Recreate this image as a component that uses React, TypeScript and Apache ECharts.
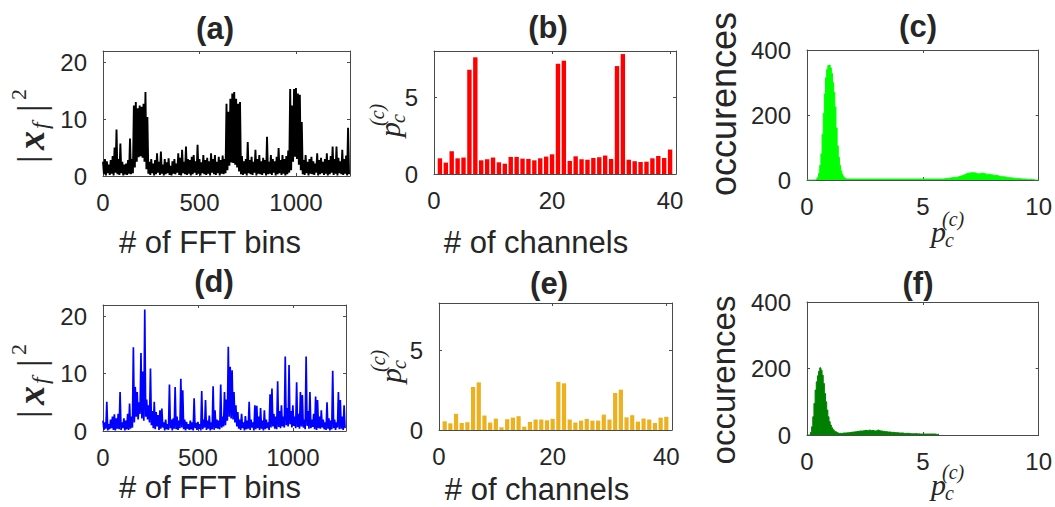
import React, { useEffect, useRef } from "react";
import * as echarts from "echarts";

// ---------- DATA ----------
// (a) |x_f|^2 upper envelope every 10 FFT bins, and lower values in between (bin 10i+5)
const peakA = [
  2.5, 3.0, 2.6, 2.0, 2.8, 3.5, 5.0, 8.2, 3.0, 5.7,
  2.5, 2.0, 2.2, 2.8, 6.6, 3.0, 12.4, 13.0, 11.9, 12.4,
  12.2, 12.7, 14.8, 10.4, 2.5, 3.0, 2.2, 2.8, 4.0, 2.5,
  4.3, 2.0, 3.0, 2.4, 3.1, 1.8, 2.6, 3.0, 2.2, 4.0,
  3.2, 4.6, 2.5, 5.2, 3.0, 2.8, 3.4, 3.7, 2.6, 5.5,
  3.0, 2.4, 3.7, 2.8, 3.2, 2.6, 4.0, 3.0, 3.7, 2.5,
  3.4, 2.8, 3.6, 3.0, 12.7, 11.3, 13.6, 14.5, 14.8, 13.6,
  12.7, 13.0, 3.5, 2.6, 3.0, 6.0, 2.8, 3.4, 2.5, 4.6,
  3.0, 3.7, 2.6, 3.2, 2.8, 6.9, 2.5, 3.7, 3.0, 2.6,
  3.4, 4.9, 2.8, 3.7, 3.0, 3.5, 4.5, 15.3, 12.4, 15.3,
  15.5, 14.5, 14.3, 9.5, 2.8, 3.7, 2.5, 3.0, 3.4, 2.6,
  2.2, 4.0, 2.8, 3.2, 2.5, 3.0, 4.0, 2.8, 3.5, 5.2,
  3.0, 5.2, 3.2, 2.6, 4.6, 3.0, 3.6, 8.5,
];
const floorA = [
  0.3, 0.1, 0.5, 0.2, 0.4, 0.1, 0.6, 0.3, 0.2, 0.5, 0.1, 0.3, 0.2, 0.4, 0.3,
  0.5, 1.5, 2.5, 3.3, 3.5, 3.2, 2.5, 1.2, 0.4,
  0.2, 0.5, 0.1, 0.3, 0.6, 0.2, 0.4, 0.1, 0.3, 0.5, 0.2, 0.1, 0.4, 0.3, 0.6, 0.2,
  0.1, 0.5, 0.3, 0.2, 0.4, 0.1, 0.3, 0.6, 0.2, 0.4, 0.1, 0.5, 0.3, 0.2, 0.4, 0.1,
  0.6, 0.3, 0.2, 0.5, 0.1, 0.4, 0.3, 0.5,
  1.0, 1.8, 2.4, 2.3, 2.0, 1.5, 0.8, 0.3,
  0.2, 0.4, 0.1, 0.5, 0.3, 0.2, 0.6, 0.1, 0.4, 0.3, 0.2, 0.5, 0.1, 0.3, 0.4, 0.2,
  0.6, 0.1, 0.3, 0.5, 0.2, 0.4, 0.1, 0.3, 0.6,
  1.0, 2.5, 3.4, 3.0, 2.0, 1.0, 0.3,
  0.2, 0.5, 0.1, 0.4, 0.3, 0.2, 0.6, 0.1, 0.3, 0.5, 0.2, 0.4, 0.1, 0.3, 0.6, 0.2,
  0.4, 0.1, 0.5, 0.3, 0.2, 0.4, 0.1, 0.3,
];
// (d)
const peakD = [
  1.8, 1.5, 5.1, 1.2, 2.0, 2.5, 2.9, 2.2, 3.0, 6.8,
  1.5, 2.2, 1.8, 3.0, 4.8, 2.5, 14.6, 7.7, 6.8, 5.0,
  13.6, 10.4, 21.2, 5.5, 4.5, 10.9, 3.5, 5.1, 3.3, 2.8,
  3.6, 3.9, 1.5, 2.0, 1.2, 8.1, 2.0, 2.2, 7.7, 2.5,
  1.8, 9.1, 7.1, 2.0, 1.6, 1.2, 1.8, 1.5, 5.7, 1.4,
  1.6, 1.2, 7.0, 2.0, 5.4, 1.8, 2.7, 1.5, 7.8, 3.6,
  2.0, 1.8, 8.1, 2.5, 6.8, 5.5, 14.7, 11.2, 10.6, 6.8,
  4.5, 3.3, 2.0, 3.0, 1.5, 2.6, 1.8, 5.1, 2.0, 1.5,
  4.5, 4.4, 2.5, 4.0, 1.8, 3.6, 2.0, 1.5, 6.4, 7.4,
  3.0, 2.5, 8.7, 3.5, 4.5, 2.5, 13.0, 4.0, 11.5, 3.5,
  4.5, 2.5, 8.5, 3.0, 6.8, 6.3, 2.0, 13.0, 3.5, 6.8,
  2.0, 3.0, 6.0, 5.4, 2.5, 3.6, 2.0, 1.5, 5.0, 2.2,
  1.8, 10.5, 2.0, 1.5, 6.8, 5.4, 2.5, 4.5,
];
const floorD = [
  0.2, 0.4, 0.1, 0.3, 0.5, 0.2, 0.1, 0.4, 0.3, 0.2, 0.5, 0.1, 0.3, 0.2, 0.4, 0.6,
  1.5, 2.5, 2.0, 3.0, 2.2, 1.8, 2.5, 2.0, 1.5, 1.0,
  0.5, 0.3, 0.8, 0.2, 0.4, 0.6, 0.1, 0.3, 0.2, 0.5, 0.1, 0.4, 0.3, 0.2, 0.5, 0.6,
  0.3, 0.1, 0.4, 0.2, 0.3, 0.1, 0.5, 0.2, 0.4, 0.1, 0.3, 0.6, 0.2, 0.4, 0.1, 0.3,
  0.2, 0.5, 0.4, 0.3, 0.6, 0.8,
  1.0, 1.8, 2.5, 2.2, 2.0, 1.5, 0.8, 0.4,
  0.2, 0.5, 0.1, 0.3, 0.4, 0.2, 0.6, 0.1, 0.3, 0.5, 0.2, 0.4, 0.1, 0.3, 0.5, 0.2,
  0.6, 0.8, 0.4, 0.3, 0.7, 0.5, 0.8, 0.6, 1.0, 0.8, 1.2, 0.6, 0.9, 0.5, 0.7, 0.4,
  0.8, 0.6, 0.3, 0.9, 0.4, 0.5, 0.7, 0.3, 0.2, 0.5, 0.4, 0.6, 0.3, 0.2, 0.4, 0.1,
  0.3, 0.5, 0.2, 0.6, 0.3, 0.4, 0.2, 0.5,
];
// (b) & (e) per-channel values, channels 1..40
const barsB = [
  1.02, 0.74, 1.48, 1.02, 1.07, 6.78, 7.59, 0.89, 0.96, 1.07,
  0.76, 0.67, 1.11, 1.11, 1.0, 0.98, 0.89, 1.02, 1.13, 1.28,
  7.17, 7.37, 0.85, 1.15, 0.96, 0.93, 1.04, 1.09, 1.2, 0.98,
  7.02, 7.8, 0.93, 0.83, 0.78, 0.8, 1.02, 1.17, 1.04, 1.59,
];
const barsE = [
  0.55, 0.42, 1.02, 0.44, 0.49, 2.71, 3.0, 0.91, 0.47, 0.72,
  0.17, 0.68, 0.78, 0.87, 0.21, 0.51, 0.66, 0.66, 0.61, 0.7,
  3.03, 2.94, 0.66, 0.47, 0.59, 0.7, 0.59, 0.59, 0.97, 0.66,
  2.33, 2.54, 0.8, 0.93, 0.53, 0.72, 0.66, 0.44, 0.78, 0.83,
];
// (c) & (f) histogram counts, bins of width 0.05 starting at 0
const histBinWidth = 0.05;
const histC = [
  0, 0, 0, 0, 0, 0, 0, 0, 3, 8,
  20, 45, 80, 140, 205, 265, 315, 340, 352, 354,
  345, 328, 300, 270, 225, 160, 105, 70, 45, 28,
  18, 10, 6, 4, 3, 3, 3, 3, 3, 3,
  3, 3, 3, 3, 3, 3, 3, 3, 3, 3,
  3, 3, 3, 3, 3, 3, 3, 3, 3, 3,
  3, 3, 3, 3, 3, 3, 3, 3, 3, 3,
  3, 3, 3, 3, 3, 3, 3, 3, 3, 3,
  3, 3, 3, 3, 3, 3, 3, 3, 3, 3,
  3, 3, 3, 3, 3, 3, 3, 3, 3, 3,
  3, 3, 3, 3, 3, 3, 3, 3, 3, 3,
  3, 3, 3, 3, 3, 3, 3, 3, 4, 4,
  5, 5, 6, 6, 7, 7, 8, 8, 8, 9,
  10, 11, 12, 13, 15, 16, 18, 19, 20, 21,
  22, 22, 23, 22, 22, 21, 20, 19, 19, 20,
  21, 21, 20, 19, 18, 18, 17, 17, 16, 16,
  15, 15, 14, 14, 13, 12, 11, 11, 10, 10,
  9, 9, 8, 8, 7, 7, 6, 6, 6, 5,
  5, 5, 4, 4, 4, 3, 3, 3, 3, 2,
  2, 2, 2, 2, 1, 1, 0, 0, 0, 0,
];
const histF = [
  0, 0, 0, 8, 25, 55, 95, 135, 160, 178,
  192, 202, 195, 180, 155, 125, 100, 75, 55, 40,
  30, 22, 17, 13, 10, 8, 6, 5, 5, 5,
  5, 6, 6, 6, 7, 7, 7, 8, 8, 9,
  9, 10, 10, 11, 11, 12, 12, 12, 13, 13,
  14, 14, 13, 15, 14, 13, 14, 13, 12, 13,
  14, 15, 13, 12, 12, 11, 11, 10, 10, 9,
  9, 9, 8, 8, 8, 7, 7, 7, 7, 6,
  6, 6, 6, 5, 5, 5, 5, 5, 4, 4,
  4, 4, 4, 4, 4, 3, 4, 3, 3, 3,
  3, 3, 3, 3, 3, 3, 3, 3, 3, 3,
  3, 2, 2, 2,
];

const titles = ["(a)", "(b)", "(c)", "(d)", "(e)", "(f)"];
const xLabelFFT = "# of FFT bins";
const xLabelCh = "# of channels";
const yLabelOcc = "occurences";

// ---------- helpers ----------
const SANS = '"Liberation Sans", Arial, Helvetica, sans-serif';
const SERIF = '"Liberation Serif", "DejaVu Serif", serif';
const TXT = "#262626";
const BOX = "#4a4a4a";

function spectrum(peaks: number[], floors: number[]) {
  const out: number[][] = [];
  for (let i = 0; i < peaks.length; i++) {
    out.push([i * 10, peaks[i]]);
    out.push([i * 10 + 5, floors[i] ?? 0.2]);
  }
  return out;
}
function hist(counts: number[], w: number) {
  const out: number[][] = counts.map((c, i) => [+(i * w).toFixed(4), c]);
  out.push([+(counts.length * w).toFixed(4), 0]);
  return out;
}
function bars(vals: number[]) {
  return vals.map((v, i) => [i + 1, v]);
}

function mkAxis(grid: number, min: number, max: number, interval: number, pos: string, labels: boolean, margin: number) {
  return {
    type: "value",
    gridIndex: grid,
    min,
    max,
    interval,
    position: pos,
    axisLine: { show: true, onZero: false, lineStyle: { color: BOX, width: 1 } },
    axisTick: { show: true, inside: true, length: 3, lineStyle: { color: BOX, width: 1 } },
    axisLabel: labels
      ? {
          show: true,
          fontSize: 24,
          color: TXT,
          fontFamily: SANS,
          margin,
          formatter: (v: number) => (Math.abs(v % interval) < 1e-9 ? String(v) : ""),
        }
      : { show: false },
    splitLine: { show: false },
  };
}

const grids = [
  { left: 103, top: 51, width: 247, height: 125 },
  { left: 434, top: 51, width: 242, height: 123 },
  { left: 807, top: 50, width: 235, height: 130 },
  { left: 103, top: 305, width: 243, height: 126 },
  { left: 439, top: 303, width: 233, height: 127 },
  { left: 807, top: 302, width: 235, height: 133 },
];
const xr = [
  [0, 1280, 500],
  [0, 41, 20],
  [0, 10, 5],
  [0, 1280, 500],
  [0, 41, 20],
  [0, 10, 5],
];
const yr = [
  [0, 22, 10],
  [0, 8, 5],
  [0, 400, 200],
  [0, 22, 10],
  [0, 8, 5],
  [0, 400, 200],
];

function txt(x: number, y: number, text: string, size: number, opts: any = {}) {
  return {
    type: "text",
    x,
    y,
    rotation: opts.rotation || 0,
    style: {
      text,
      fontSize: size,
      fontFamily: opts.family || SANS,
      fontWeight: opts.weight || "normal",
      fontStyle: opts.style || "normal",
      fill: TXT,
      align: opts.align || "center",
      verticalAlign: "middle",
    },
  };
}

// p_c^{(c)} label, centred on (cx, cy)
function pLabel(cx: number, cy: number, rotated: boolean) {
  return {
    type: "group",
    x: cx,
    y: cy,
    rotation: rotated ? Math.PI / 2 : 0,
    children: [
      txt(-15, 0, "p", 30, { family: SERIF, style: "italic", align: "left" }),
      txt(-1, 9, "c", 20, { family: SERIF, style: "italic", align: "left" }),
      txt(-4, -12, "(c)", 20, { family: SERIF, style: "italic", align: "left" }),
    ],
  };
}
// |x_f|^2 label
function xfLabel(cx: number, cy: number) {
  return {
    type: "group",
    x: cx,
    y: cy,
    rotation: Math.PI / 2,
    children: [
      txt(-40, 0, "|", 38, { family: SERIF, align: "left" }),
      txt(-27, 0, "x", 38, { family: SERIF, style: "italic", weight: "bold", align: "left" }),
      txt(-6, 9, "f", 24, { family: SERIF, style: "italic", align: "left" }),
      txt(11, 0, "|", 38, { family: SERIF, align: "left" }),
      txt(23, -13, "2", 22, { family: SERIF, align: "left" }),
    ],
  };
}

export default function App() {
  const ref = useRef<HTMLDivElement>(null);
  useEffect(() => {
    if (!ref.current) return;
    const chart = echarts.init(ref.current, undefined, { renderer: "svg" });
    const xAxis: any[] = [];
    const yAxis: any[] = [];
    for (let g = 0; g < 6; g++) {
      xAxis.push(mkAxis(g, xr[g][0], xr[g][1], xr[g][2], "bottom", true, 14));
      xAxis.push(mkAxis(g, xr[g][0], xr[g][1], xr[g][2], "top", false, 0));
      yAxis.push(mkAxis(g, yr[g][0], yr[g][1], yr[g][2], "left", true, 16));
      yAxis.push(mkAxis(g, yr[g][0], yr[g][1], yr[g][2], "right", false, 0));
    }
    const series: any[] = [
      {
        type: "line", xAxisIndex: 0, yAxisIndex: 0, data: spectrum(peakA, floorA),
        symbol: "none", clip: false, lineStyle: { color: "#000000", width: 1.9 }, z: 1,
      },
      {
        type: "bar", xAxisIndex: 2, yAxisIndex: 2, data: bars(barsB), barWidth: 4.4,
        itemStyle: { color: "#ff0000" },
      },
      {
        type: "line", xAxisIndex: 4, yAxisIndex: 4, data: hist(histC, histBinWidth), step: "end",
        symbol: "none", lineStyle: { color: "#00ff00", width: 1 },
        areaStyle: { color: "#00ff00", opacity: 1 },
      },
      {
        type: "line", xAxisIndex: 6, yAxisIndex: 6, data: spectrum(peakD, floorD),
        symbol: "none", clip: false, lineStyle: { color: "#0000ff", width: 1.7 }, z: 1,
      },
      {
        type: "bar", xAxisIndex: 8, yAxisIndex: 8, data: bars(barsE), barWidth: 4.2,
        itemStyle: { color: "#edb120" },
      },
      {
        type: "line", xAxisIndex: 10, yAxisIndex: 10, data: hist(histF, histBinWidth), step: "end",
        symbol: "none", lineStyle: { color: "#008000", width: 1 },
        areaStyle: { color: "#008000", opacity: 1 },
      },
    ];
    const titlePos = [
      [215, 28], [548, 27], [918, 26], [214, 281], [549, 283], [918, 283],
    ];
    const graphic: any[] = [];
    titles.forEach((t, i) => graphic.push(txt(titlePos[i][0], titlePos[i][1], t, 31, { weight: "bold" })));
    graphic.push(txt(210, 242, xLabelFFT, 31));
    graphic.push(txt(210, 487, xLabelFFT, 31));
    graphic.push(txt(536, 242, xLabelCh, 31));
    graphic.push(txt(537, 489, xLabelCh, 31));
    graphic.push(txt(723, 104, yLabelOcc, 36, { rotation: Math.PI / 2 }));
    graphic.push(txt(723, 380, yLabelOcc, 33, { rotation: Math.PI / 2 }));
    graphic.push(xfLabel(31, 123));
    graphic.push(xfLabel(31, 378));
    graphic.push(pLabel(389, 122, true));
    graphic.push(pLabel(390, 368, true));
    graphic.push(pLabel(946, 231, false));
    graphic.push(pLabel(946, 484, false));

    chart.setOption({
      animation: false,
      backgroundColor: "#ffffff",
      grid: grids.map((g) => ({ ...g, containLabel: false })),
      xAxis,
      yAxis,
      series,
      graphic,
    });
    return () => chart.dispose();
  }, []);
  return (
    <div
      ref={ref}
      style={{ position: "absolute", left: 0, top: 0, width: 1055, height: 507 }}
    />
  );
}
